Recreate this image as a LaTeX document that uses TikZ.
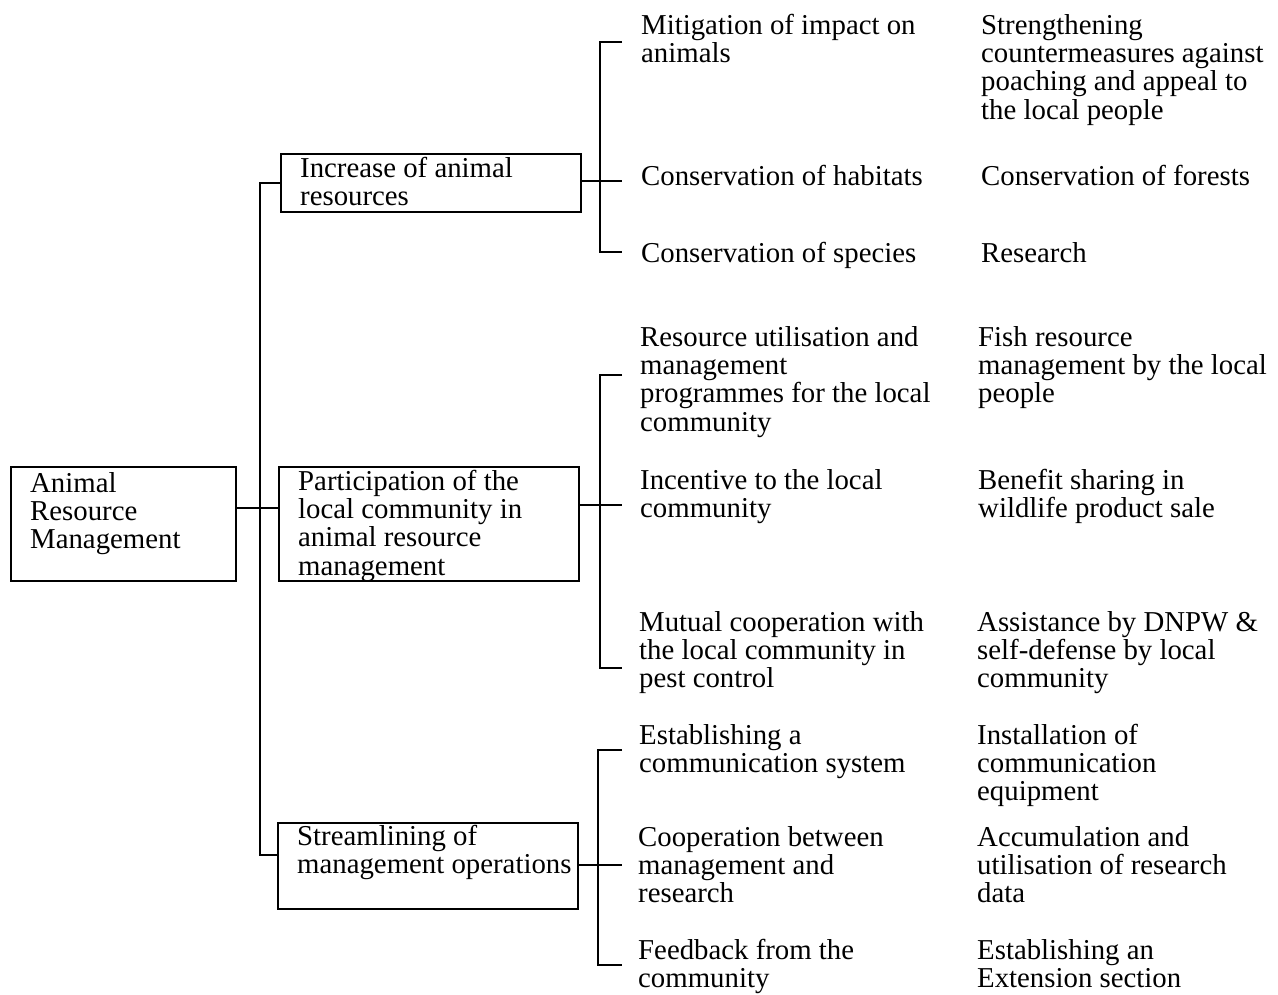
\documentclass[tikz,border=0pt]{standalone}
\usepackage{fontspec}
\setmainfont{Liberation Serif}
\newcommand{\fsz}{\fontsize{28.8}{28.4}\selectfont}
% txt nodes are placed by the baseline of their LAST line
\tikzset{
  box/.style={draw, line width=1.6pt, inner sep=0pt, anchor=north west},
  txt/.style={anchor=base west, align=left, inner sep=0pt, font=\fsz},
  conn/.style={line width=1.8pt}
}
\begin{document}
\begin{tikzpicture}[x=1pt,y=-1pt]
\useasboundingbox (0,0) rectangle (1278,994);
% boxes
\node[box, minimum width=225pt, minimum height=114pt] (root) at (10,466) {};
\node[box, minimum width=300pt, minimum height=58pt] (b1) at (280,153) {};
\node[box, minimum width=300pt, minimum height=114pt] (b2) at (278,466) {};
\node[box, minimum width=300pt, minimum height=86pt] (b3) at (277,822) {};
% box texts
\node[txt] (rootT) at (30,548.8) {Animal\\Resource\\Management};
\node[txt] (b1T) at (300,205.4) {Increase of animal\\resources};
\node[txt] (b2T) at (298,575.2) {Participation of the\\local community in\\animal resource\\management};
\node[txt] (b3T) at (297,873.4) {Streamlining of\\management operations};
% column 2
\node[txt] (m1) at (641,62.4) {Mitigation of impact on\\animals};
\node[txt] (m2) at (641,185) {Conservation of habitats};
\node[txt] (m3) at (641,262) {Conservation of species};
\node[txt] (p1) at (640,431.2) {Resource utilisation and\\management\\programmes for the local\\community};
\node[txt] (p2) at (640,517.4) {Incentive to the local\\community};
\node[txt] (p3) at (639,687.8) {Mutual cooperation with\\the local community in\\pest control};
\node[txt] (t1) at (639,772.4) {Establishing a\\communication system};
\node[txt] (t2) at (638,902.8) {Cooperation between\\management and\\research};
\node[txt] (t3) at (638,987.4) {Feedback from the\\community};
% column 3
\node[txt] (s1) at (981,119.2) {Strengthening\\countermeasures against\\poaching and appeal to\\the local people};
\node[txt] (s2) at (981,185) {Conservation of forests};
\node[txt] (s3) at (981,262) {Research};
\node[txt] (f1) at (978,402.8) {Fish resource\\management by the local\\people};
\node[txt] (f2) at (978,517.4) {Benefit sharing in\\wildlife product sale};
\node[txt] (f3) at (977,687.8) {Assistance by DNPW \&\\self-defense by local\\community};
\node[txt] (u1) at (977,800.8) {Installation of\\communication\\equipment};
\node[txt] (u2) at (977,902.8) {Accumulation and\\utilisation of research\\data};
\node[txt] (u3) at (977,987.4) {Establishing an\\Extension section};
% trunk
\coordinate (tr1) at (260,183);
\coordinate (tr2) at (260,508);
\coordinate (tr3) at (260,855);
\draw[conn] (b1.west |- tr1) -- (tr1) -- (tr3) -- (b3.west |- tr3);
\draw[conn] (root.east |- tr2) -- (b2.west |- tr2);
% bracket 1
\coordinate (k1a) at (600,42);
\coordinate (k1m) at (622,181);
\coordinate (k1b) at (600,252);
\draw[conn] (k1a -| k1m) -- (k1a) -- (k1b) -- (k1b -| k1m);
\draw[conn] (b1.east |- k1m) -- (k1m);
% bracket 2
\coordinate (k2a) at (600,375);
\coordinate (k2m) at (622,505);
\coordinate (k2b) at (600,668);
\draw[conn] (k2a -| k2m) -- (k2a) -- (k2b) -- (k2b -| k2m);
\draw[conn] (b2.east |- k2m) -- (k2m);
% bracket 3
\coordinate (k3a) at (598,750);
\coordinate (k3m) at (622,865);
\coordinate (k3b) at (598,965);
\draw[conn] (k3a -| k3m) -- (k3a) -- (k3b) -- (k3b -| k3m);
\draw[conn] (b3.east |- k3m) -- (k3m);
\end{tikzpicture}
\end{document}
